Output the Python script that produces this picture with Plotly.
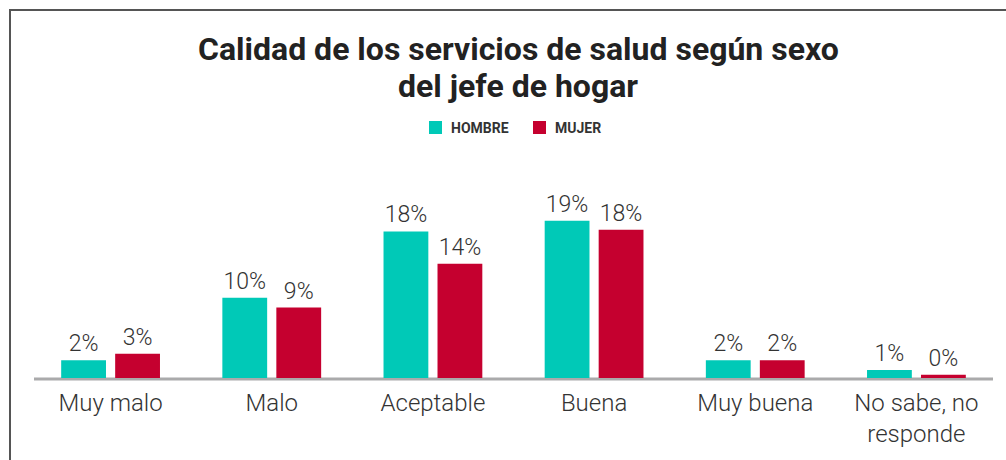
import plotly.graph_objects as go

categories = ["Muy malo", "Malo", "Aceptable", "Buena", "Muy buena", "No sabe, no<br>responde"]
hombre = [2.2, 9.9, 18.1, 19.4, 2.2, 1.0]
mujer = [3.0, 8.7, 14.1, 18.3, 2.2, 0.4]
series_names = ["HOMBRE", "MUJER"]
colors = ["#00C9B7", "#C5002F"]
title_lines = ["Calidad de los servicios de salud según sexo", "del jefe de hogar"]

W, H = 1006, 460
ML, MR, MT, MB = 30, 9, 150, 82
plot_w = W - ML - MR
plot_h = H - MT - MB


def px_x(x):
    return (x - ML) / plot_w


def px_y(y):
    return (H - MB - y) / plot_h


fig = go.Figure()
for name, vals, col in zip(series_names, [hombre, mujer], colors):
    fig.add_trace(go.Bar(
        x=categories, y=vals, name=name,
        marker=dict(color=col, line=dict(width=0)),
        texttemplate="%{y:.0f}%", textposition="outside",
        textfont=dict(family="Roboto", size=23, color="#333333", weight=300),
        cliponaxis=False, showlegend=False,
    ))

shapes = [
    # outer frame
    dict(type="rect", xref="paper", yref="paper",
         x0=px_x(10), x1=px_x(1030), y0=px_y(10), y1=px_y(490),
         line=dict(color="#555555", width=2), fillcolor="rgba(0,0,0,0)", layer="below"),
    # baseline
    dict(type="line", xref="paper", yref="paper",
         x0=px_x(34), x1=px_x(993), y0=px_y(379), y1=px_y(379),
         line=dict(color="#AAAAAB", width=3), layer="below"),
]

annotations = []
for i, (line, yc) in enumerate(zip(title_lines, [49, 86])):
    annotations.append(dict(
        text=line, xref="paper", yref="paper", x=px_x(518), y=px_y(yc),
        xanchor="center", yanchor="middle", showarrow=False,
        font=dict(family="Roboto", size=32, color="#222222", weight="bold"),
    ))

# legend (manual)
leg_sq = [429, 533]
for name, col, sx in zip(series_names, colors, leg_sq):
    shapes.append(dict(type="rect", xref="paper", yref="paper",
                       x0=px_x(sx), x1=px_x(sx + 13), y0=px_y(121), y1=px_y(134),
                       line=dict(width=0), fillcolor=col))
    annotations.append(dict(
        text=name, xref="paper", yref="paper", x=px_x(sx + 20), y=px_y(128),
        xanchor="left", yanchor="middle", showarrow=False,
        font=dict(family="Roboto", size=14, color="#333333", weight="bold"),
    ))

fig.update_layout(
    width=W, height=H,
    margin=dict(l=ML, r=MR, t=MT, b=MB, autoexpand=False),
    paper_bgcolor="white", plot_bgcolor="white",
    barmode="group", bargap=0.33, bargroupgap=0.17,
    showlegend=False,
    xaxis=dict(
        showline=False, showgrid=False, zeroline=False, ticks="",
        automargin=False, ticklabelstandoff=8,
        tickfont=dict(family="Roboto", size=24, color="#333333", weight=300),
    ),
    yaxis=dict(visible=False, range=[0, plot_h / 8.1], fixedrange=True, automargin=False),
    shapes=shapes,
    annotations=annotations,
)

fig.write_html("out.html", config={"displayModeBar": False},
               post_script="document.body.style.margin='0';")
